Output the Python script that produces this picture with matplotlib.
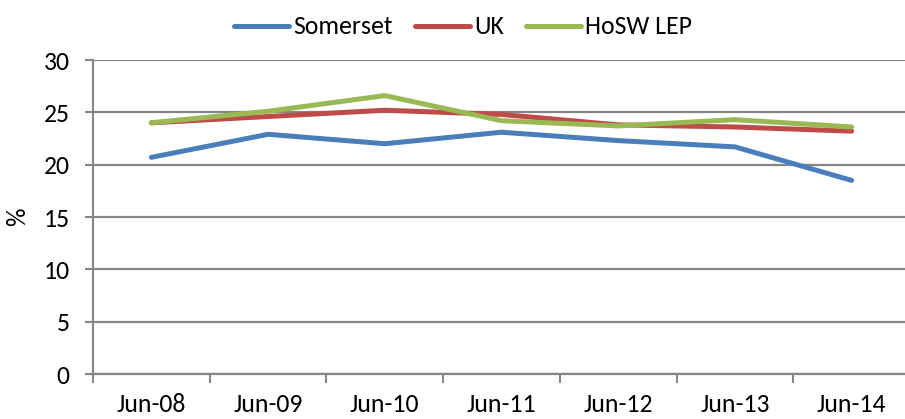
import matplotlib.pyplot as plt
import numpy as np

plt.rcParams['font.family'] = ['Carlito', 'DejaVu Sans']

months = ['Jun-08', 'Jun-09', 'Jun-10', 'Jun-11', 'Jun-12', 'Jun-13', 'Jun-14']
somerset = [20.7, 22.9, 22.0, 23.1, 22.3, 21.7, 18.5]
uk = [24.0, 24.6, 25.2, 24.8, 23.8, 23.6, 23.2]
hosw = [24.0, 25.1, 26.6, 24.2, 23.7, 24.3, 23.6]

fs = 18.5

fig = plt.figure(figsize=(9.05, 4.19), dpi=100)
ax = fig.add_axes([93 / 905, 45 / 419, 817 / 905, 314 / 419])

x = np.arange(len(months))
lw = 3.6
ax.plot(x, somerset, color='#4A7EBB', lw=lw, label='Somerset', solid_capstyle='round')
ax.plot(x, uk, color='#BE4B48', lw=lw, label='UK', solid_capstyle='round')
ax.plot(x, hosw, color='#98B954', lw=lw, label='HoSW LEP', solid_capstyle='round')

ax.set_xlim(-0.5, len(months) - 0.5)
ax.set_ylim(0, 30)
ax.set_yticks(range(0, 31, 5))
ax.set_xticks(np.arange(len(months) + 1) - 0.5, minor=False)
ax.set_xticklabels([])
ax.set_xticks(x, minor=True)
ax.set_xticklabels(months, minor=True)
ax.tick_params(axis='x', which='minor', length=0, pad=14, labelsize=fs)
ax.tick_params(axis='x', which='major', length=6.5, color='#868686', width=1.5)
ax.tick_params(axis='y', length=6, color='#868686', width=1.5, labelsize=fs, pad=11)

ax.yaxis.grid(True, color='#868686', lw=1.6)
ax.set_axisbelow(True)
for s in ['top', 'right']:
    ax.spines[s].set_visible(False)
ax.spines['left'].set_color('#868686')
ax.spines['bottom'].set_color('#868686')
ax.spines['left'].set_linewidth(1.5)
ax.spines['bottom'].set_linewidth(1.6)

ax.set_ylabel('%', fontsize=fs, labelpad=10)

fig.legend(loc='center', bbox_to_anchor=(463 / 905, 1 - 27 / 419), ncol=3, frameon=False,
           fontsize=fs, handlelength=2.15, handletextpad=0.16, columnspacing=0.85,
           borderpad=0, borderaxespad=0)

fig.savefig('out.png', dpi=100)
